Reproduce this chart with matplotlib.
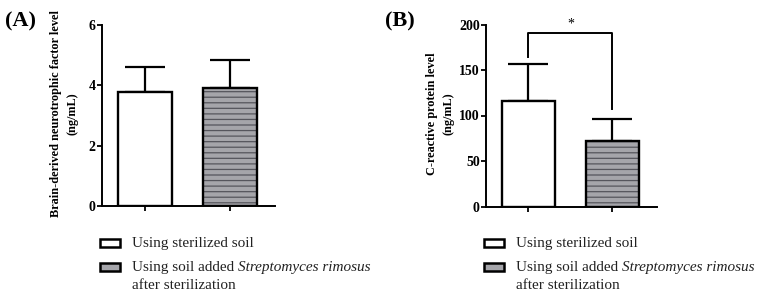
import matplotlib
matplotlib.use('Agg')
import matplotlib.pyplot as plt
from matplotlib.patches import Rectangle

plt.rcParams['font.family'] = ['Liberation Serif', 'DejaVu Serif']
plt.rcParams['hatch.linewidth'] = 0.9

# data
# each legend line is a list of (text, style) pieces
groups = [[[('Using sterilized soil', 'normal')]],
          [[('Using soil added ', 'normal'), ('Streptomyces rimosus', 'italic')],
           [('after sterilization', 'normal')]]]
bdnf_mean = [3.77, 3.92]
bdnf_sd = [0.85, 0.92]
crp_mean = [116, 72]
crp_sd = [41, 24]
bdnf_ticks = [0, 2, 4, 6]
crp_ticks = [0, 50, 100, 150, 200]
sig_x = [0, 0, 1, 1]
sig_y = [164, 191, 191, 107]

W, H = 763, 299
fig = plt.figure(figsize=(W / 100, H / 100), dpi=100)

fill = ['white', '#a5a5aa']
hatch = [None, '---']
hatch_col = ['white', '#55555c']


def panel(ax, means, sds, ticks, ylabel, xlab):
    x = list(range(len(means)))
    for i in x:
        ax.bar(x[i], means[i], width=0.635, color=fill[i], hatch=hatch[i],
               edgecolor=hatch_col[i], linewidth=0, zorder=2)
    ax.bar(x, means, width=0.635, facecolor='none', edgecolor='black',
           linewidth=1.7, zorder=3)
    ax.errorbar(x, means, yerr=[[0] * len(sds), sds], fmt='none',
                ecolor='black', elinewidth=1.6, capsize=14.5, capthick=1.6,
                zorder=1)
    ax.set_xlim(-0.506, 1.53)
    ax.set_ylim(ticks[0], ticks[-1])
    ax.set_yticks(ticks)
    ax.set_xticks(x)
    ax.set_xticklabels([])
    for s in ['top', 'right']:
        ax.spines[s].set_visible(False)
    for s in ['left', 'bottom']:
        ax.spines[s].set_linewidth(1.4)
    ax.tick_params(width=1.3, length=3.5, pad=1)
    for t in ax.get_yticklabels():
        t.set_fontweight('bold')
        t.set_fontsize(10)
    ax.set_ylabel(ylabel, fontweight='bold', fontsize=8.8, linespacing=1.5)
    ax.yaxis.label.set_va('center')
    ax.yaxis.set_label_coords(xlab, 0.51)


axA = fig.add_axes([102 / W, 1 - 206 / H, 173 / W, 181 / H])
panel(axA, bdnf_mean, bdnf_sd, bdnf_ticks,
      'Brain-derived neurotrophic factor level\n(ng/mL)', -0.217)

axB = fig.add_axes([486 / W, 1 - 206.5 / H, 171 / W, 182 / H])
panel(axB, crp_mean, crp_sd, crp_ticks,
      'C-reactive protein level\n(ng/mL)', -0.266)
axB.plot(sig_x, sig_y, color='black', linewidth=1.4, zorder=4)
axB.text(0.5, 193, '*', ha='center', va='bottom', fontsize=10)

fig.text(5 / W, 1 - 21 / H, '(A)', fontsize=16, fontweight='bold', va='center')
fig.text(385 / W, 1 - 21 / H, '(B)', fontsize=16, fontweight='bold', va='center')

# legends under each panel
renderer = fig.canvas.get_renderer()
for x0 in [100, 484]:
    for i, lines in enumerate(groups):
        yc = 243 + 24 * i
        fig.add_artist(Rectangle((x0 / W, 1 - (yc + 4) / H), 20 / W, 8 / H,
                                 transform=fig.transFigure, facecolor=fill[i],
                                 edgecolor='black', linewidth=1.8))
        for j, pieces in enumerate(lines):
            xpix = x0 + 32
            for txt, style in pieces:
                t = fig.text(xpix / W, 1 - (yc + 4 + 18 * j) / H, txt,
                             fontsize=11, style=style, va='baseline',
                             ha='left', color='#222222')
                xpix += t.get_window_extent(renderer).width

fig.savefig('out.png', dpi=100)
